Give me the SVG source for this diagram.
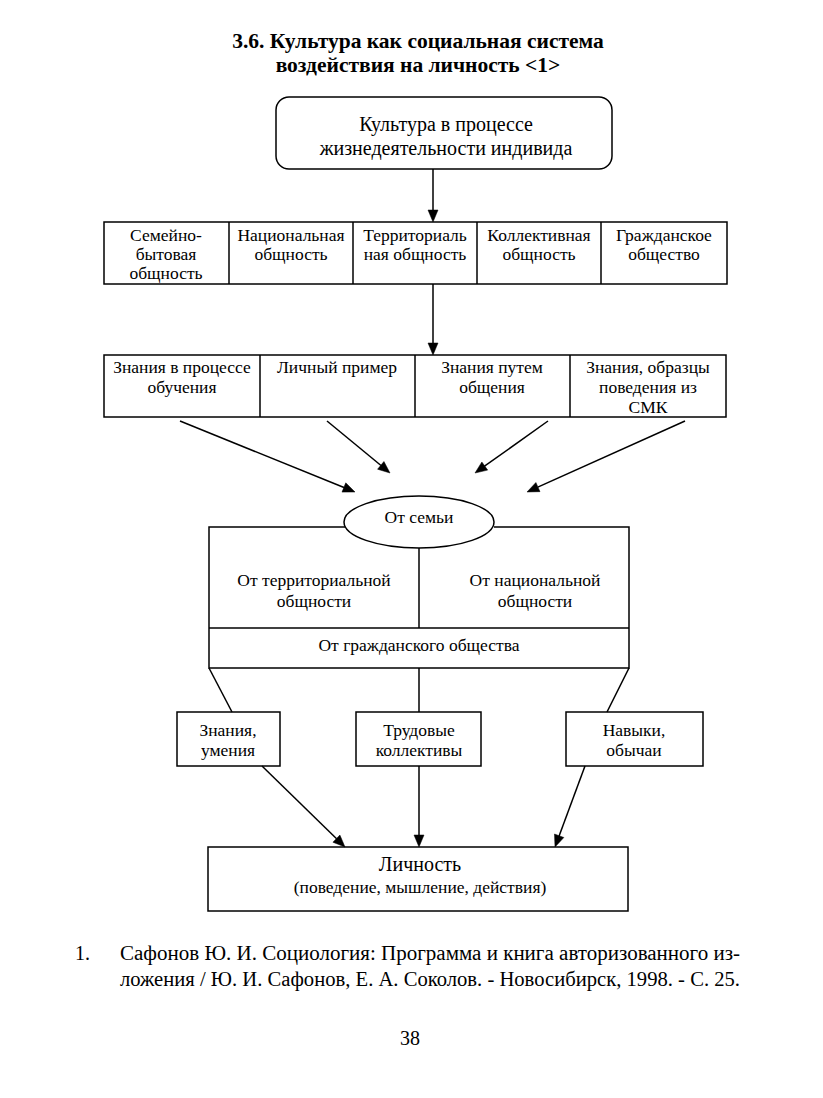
<svg xmlns="http://www.w3.org/2000/svg" width="823" height="1098" viewBox="0 0 823 1098">
<style>
text{font-family:"Liberation Serif","Times New Roman","DejaVu Serif",serif;fill:#000;text-anchor:middle}
.t{font-weight:bold;font-size:21.5px}
.n{font-size:17.5px}
.b{font-size:20px}
.f{font-size:20px;text-anchor:start}
rect,ellipse,line,path{stroke:#000;stroke-width:1.5;fill:none}
polygon.h{fill:#000;stroke:#000;stroke-width:0.5}
</style>
<rect width="823" height="1098" style="fill:#fff;stroke:none"/>
<g id="title">
<text class="t" x="418" y="48">3.6. Культура как социальная система</text>
<text class="t" x="418" y="72">воздействия на личность &lt;1&gt;</text>
</g>
<g id="culture">
<rect x="276" y="97" width="336" height="72" rx="13"/>
<text class="b" x="446" y="131">Культура в процессе</text>
<text class="b" x="446" y="155">жизнедеятельности индивида</text>
</g>
<g id="row1">
<rect x="104" y="222" width="623" height="62"/>
<line x1="229" y1="222" x2="229" y2="284"/>
<line x1="353" y1="222" x2="353" y2="284"/>
<line x1="477" y1="222" x2="477" y2="284"/>
<line x1="601" y1="222" x2="601" y2="284"/>
<g id="semeino"><text class="n" x="166" y="241">Семейно-</text><text class="n" x="166" y="260">бытовая</text><text class="n" x="166" y="279">общность</text></g>
<g id="nacion"><text class="n" x="291" y="241">Национальная</text><text class="n" x="291" y="260">общность</text></g>
<g id="territ"><text class="n" x="415" y="241">Территориаль</text><text class="n" x="415" y="260">ная общность</text></g>
<g id="kollekt"><text class="n" x="539" y="241">Коллективная</text><text class="n" x="539" y="260">общность</text></g>
<g id="grazhd"><text class="n" x="664" y="241">Гражданское</text><text class="n" x="664" y="260">общество</text></g>
</g>
<g id="row2">
<rect x="104" y="355" width="622" height="62"/>
<line x1="260" y1="355" x2="260" y2="417"/>
<line x1="415" y1="355" x2="415" y2="417"/>
<line x1="570" y1="355" x2="570" y2="417"/>
<g id="obuch"><text class="n" x="182" y="373">Знания в процессе</text><text class="n" x="182" y="393">обучения</text></g>
<g id="primer"><text class="n" x="337" y="373">Личный пример</text></g>
<g id="obsh"><text class="n" x="492" y="373">Знания путем</text><text class="n" x="492" y="393">общения</text></g>
<g id="smk"><text class="n" x="648" y="373">Знания, образцы</text><text class="n" x="648" y="393">поведения из</text><text class="n" x="648" y="413">СМК</text></g>
</g>
<g id="influence">
<path d="M345,527 H209 V668 H629 V527 H494"/>
<line x1="419" y1="547" x2="419" y2="628"/>
<line x1="209" y1="628" x2="629" y2="628"/>
<g id="semya"><ellipse cx="419" cy="522" rx="75" ry="26" style="fill:#fff"/><text class="n" x="419" y="523">От семьи</text></g>
<g id="ot-territ"><text class="n" x="314" y="586">От территориальной</text><text class="n" x="314" y="607">общности</text></g>
<g id="ot-nacion"><text class="n" x="535" y="586">От национальной</text><text class="n" x="535" y="607">общности</text></g>
<g id="ot-grazhd"><text class="n" x="419" y="651">От гражданского общества</text></g>
</g>
<g id="znaniya"><rect x="177" y="712" width="103" height="54"/><text class="n" x="228" y="736">Знания,</text><text class="n" x="228" y="756">умения</text></g>
<g id="trud"><rect x="356" y="712" width="125" height="54"/><text class="n" x="419" y="736">Трудовые</text><text class="n" x="419" y="756">коллективы</text></g>
<g id="navyki"><rect x="566" y="712" width="137" height="54"/><text class="n" x="634" y="736">Навыки,</text><text class="n" x="634" y="756">обычаи</text></g>
<g id="lichnost"><rect x="208" y="847" width="420" height="64"/><text class="b" x="420" y="871">Личность</text><text class="n" x="420" y="893">(поведение, мышление, действия)</text></g>
<g id="connectors">
<line x1="433" y1="169" x2="433" y2="211"/>
<polygon class="h" points="433,222 428,210 438,210"/>
<line x1="433" y1="284" x2="433" y2="344"/>
<polygon class="h" points="433,355 428,343 438,343"/>
<line x1="180" y1="421" x2="344" y2="487.5"/>
<polygon class="h" points="355,492 345.76,482.86 342.0,492.12"/>
<line x1="327" y1="421" x2="381" y2="465.5"/>
<polygon class="h" points="390,473 383.93,461.5 377.57,469.22"/>
<line x1="548" y1="421" x2="484.5" y2="466.2"/>
<polygon class="h" points="475,473 481.87,461.97 487.67,470.11"/>
<line x1="685" y1="421" x2="537.8" y2="487.1"/>
<polygon class="h" points="527,492 535.9,482.52 540.0,491.64"/>
<line x1="209" y1="668" x2="232" y2="712"/>
<line x1="419" y1="668" x2="419" y2="712"/>
<line x1="629" y1="668" x2="607" y2="712"/>
<line x1="262" y1="766" x2="336.6" y2="838.8"/>
<polygon class="h" points="345,847 332.92,842.2 339.9,835.04"/>
<line x1="419" y1="766" x2="419" y2="836"/>
<polygon class="h" points="419,847 414,835 424,835"/>
<line x1="585" y1="766" x2="559.1" y2="836"/>
<polygon class="h" points="555,847 554.48,834.01 563.86,837.49"/>
</g>
<g id="footnote">
<text class="f" x="75" y="960">1.</text>
<text class="f" x="120" y="960" textLength="620" lengthAdjust="spacingAndGlyphs">Сафонов Ю. И. Социология: Программа и книга авторизованного из-</text>
<text class="f" x="120" y="986" textLength="620" lengthAdjust="spacingAndGlyphs">ложения / Ю. И. Сафонов, Е. А. Соколов. - Новосибирск, 1998. - С. 25.</text>
<text class="b" x="410" y="1045">38</text>
</g>
</svg>
